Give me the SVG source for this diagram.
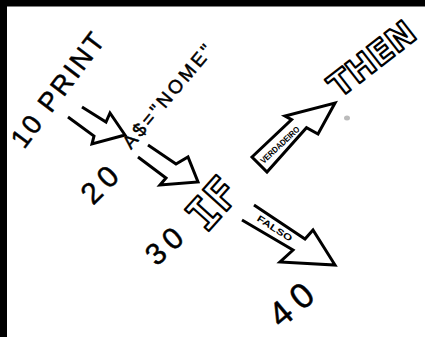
<svg xmlns="http://www.w3.org/2000/svg" width="425" height="337" viewBox="0 0 425 337">
<style>
.hand{font-family:"Liberation Sans","DejaVu Sans",sans-serif;fill:#000;stroke:#000;stroke-width:0.5;stroke-linejoin:round}
.block{font-weight:bold;fill:#fff;stroke:#000;stroke-width:2.2;stroke-linejoin:round}
.arrow{fill:#fff;stroke:#000;stroke-width:3;stroke-linejoin:miter}
.lbl{font-family:"Liberation Sans",sans-serif;font-weight:bold;fill:#000}
</style>
<rect width="425" height="337" fill="#fff"/>
<rect x="0" y="0" width="425" height="6.5" fill="#000"/>
<rect x="0" y="0" width="7" height="337" fill="#000"/>
<g id="line10">
<text class="hand" font-size="27" letter-spacing="2.5" transform="translate(24,150) rotate(-53)">10 PRINT</text>
</g>
<g id="line20">
<text class="hand" font-size="30" letter-spacing="6" transform="translate(93,206) rotate(-45)">20</text>
<text class="hand" font-size="19" letter-spacing="3" transform="translate(131,150) rotate(-50)">A$="NOME"</text>
</g>
<g id="line30">
<text class="hand" font-size="30" letter-spacing="6" transform="translate(156.4,267) rotate(-42)">30</text>
<text class="block" font-family="DejaVu Sans Mono, monospace" font-size="44" text-anchor="middle" transform="translate(224,214) rotate(-48)">IF</text>
</g>
<g id="then">
<text class="block" font-family="DejaVu Sans, sans-serif" font-size="33" text-anchor="middle" transform="translate(379,68) rotate(-38)">THEN</text>
</g>
<g id="line40">
<text class="hand" font-size="35" letter-spacing="8" transform="translate(281,329) rotate(-40)">40</text>
</g>
<g id="connectors">
<path class="arrow" d="M68,117 L94,136 L92,144 L125,135 L110,113 L106,122 L82,107"/>
<path class="arrow" d="M138,157 L166,178 L160,185 L198,182 L188,157 L176,164 L148,145"/>
<path class="arrow" stroke-width="2.5" d="M252,157 L291.6,119.6 L285,116 L335,103 L318,134 L306.5,127.7 L267,172 Z"/>
<text class="lbl" font-size="8.5" text-anchor="middle" textLength="50" lengthAdjust="spacingAndGlyphs" transform="translate(282,147) rotate(-43)">VERDADEIRO</text>
<path class="arrow" stroke-width="2.5" d="M254,205 L305,239 L313,230 L335,265 L280,262 L293,250 L242,220"/>
<text class="lbl" font-size="9" text-anchor="middle" textLength="40" lengthAdjust="spacingAndGlyphs" transform="translate(273,231) rotate(33)">FALSO</text>
</g>
<ellipse cx="347" cy="118" rx="3" ry="2.5" fill="#bbb"/>
</svg>
